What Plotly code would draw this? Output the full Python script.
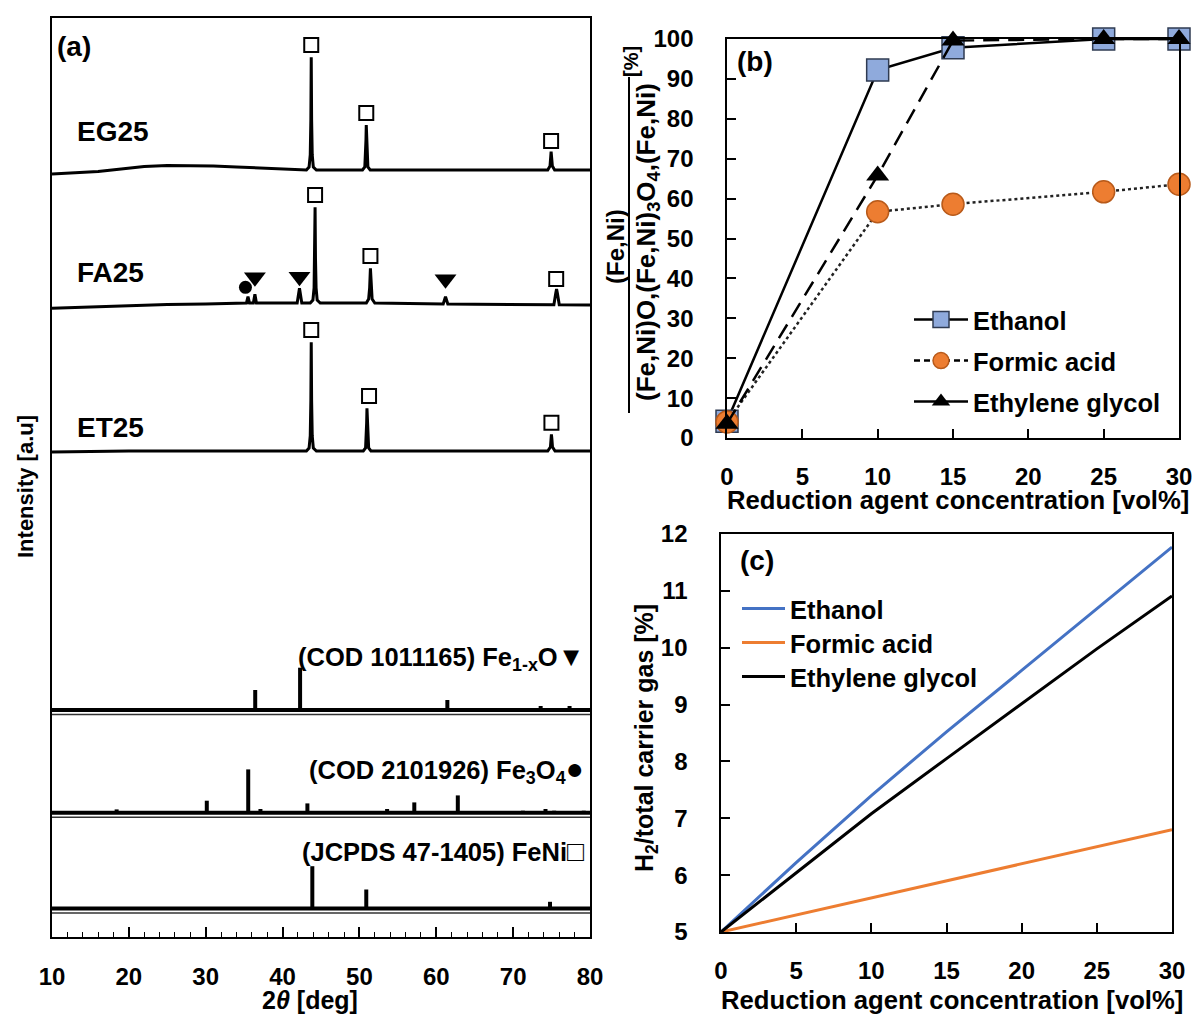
import plotly.graph_objects as go

W, H = 1193, 1021
FONT = "Liberation Sans, Arial, sans-serif"
NB = "\u00a0"


def px(x):
    return x / W


def py(y):
    return 1 - y / H


# ---------------- Panel (a) data ----------------
# sample XRD patterns: 2theta [deg], intensity above own baseline [a.u.]
eg25_2theta = [10, 13, 16, 19, 22, 25, 28, 31, 34, 37, 40, 43.1,
               43.45, 43.6, 43.68, 43.73, 43.78, 43.86, 44.0, 44.4,
               47, 50.4, 50.7, 50.8, 50.85, 50.89, 50.94, 51.0, 51.1, 51.4,
               55, 60, 65, 70, 74.5, 74.8, 74.9, 74.94, 75.0, 75.1, 75.4, 80]
eg25_int = [-4, -3, -1.5, 1, 3.5, 4.5, 4.5, 4, 3, 2, 1, 0,
            3, 15, 50, 112.7, 50, 15, 3, 0,
            0, 0, 3, 15, 30, 45, 30, 15, 3, 0,
            0, 0, -0.5, 0, 0, 4, 13, 18.3, 13, 4, 0, 0]

fa25_2theta = [10, 15, 20, 25, 30, 34, 35.3, 35.5, 35.7, 36.2, 36.4, 36.6, 38,
               41.9, 42.2, 42.5, 43.6, 43.95, 44.1, 44.18, 44.23, 44.28, 44.36, 44.5, 44.9,
               47, 50.9, 51.2, 51.33, 51.43, 51.53, 51.65, 52.0, 55,
               60.9, 61.2, 61.5, 65, 70, 75.3, 75.55, 75.65, 75.75, 76.0, 80]
fa25_int = [-5.3, -4, -2.7, -1.5, -1, -0.3, 0, 6.5, 0, 0, 8.7, 0, 0,
            0, 14.7, 0, 0, 3, 15, 45, 95.7, 45, 15, 3, 0,
            0, 0, 4, 15, 34.7, 15, 4, 0, -0.5,
            -1, 6.3, -1, -1.2, -1.5, -1.7, 10, 14, 10, -1.8, -2]

et25_2theta = [10, 20, 30, 40, 43.1, 43.45, 43.6, 43.68, 43.73, 43.78, 43.86, 44.0, 44.4,
               47, 50.5, 50.8, 50.9, 50.94, 50.98, 51.03, 51.1, 51.2, 51.5,
               60, 70, 74.5, 74.85, 74.94, 74.98, 75.04, 75.12, 75.45, 80]
et25_int = [-1, 0, 0, 0, 0, 3, 15, 50, 108.7, 50, 15, 3, 0,
            0, 0, 3, 15, 28, 42.7, 28, 15, 3, 0,
            0, 0, 0, 4, 12, 16.7, 12, 4, 0, 0]

sample_names = ["EG25", "FA25", "ET25"]
sample_offsets = [767, 634, 486]

# phase markers above peaks (2theta, height above baseline)
eg25_sq_2theta = [43.73, 50.89, 74.94]
eg25_sq_h = [125, 57, 29]
fa25_sq_2theta = [44.23, 51.43, 75.6]
fa25_sq_h = [108, 47, 24]
fa25_tri_2theta = [36.4, 42.2, 61.2]
fa25_tri_h = [25.7, 26.3, 23.7]
fa25_cir_2theta = [35.17]
fa25_cir_h = [15.7]
et25_sq_2theta = [43.73, 51.25, 74.98]
et25_sq_h = [121, 55, 28.3]

# reference stick patterns
feo_2theta = [36.44, 42.28, 61.44, 73.58, 77.34]
feo_int = [20, 42.3, 10, 4, 4]
fe3o4_2theta = [18.41, 30.14, 35.53, 37.12, 43.23, 53.6, 57.14, 62.8, 66.06, 71.27, 74.21, 75.34, 79.19]
fe3o4_int = [3.3, 12, 43.3, 3.7, 9.3, 3.7, 10.3, 17.3, 1.5, 2, 3.7, 2, 2]
feni_2theta = [43.87, 50.89, 74.8]
feni_int = [42.3, 19, 6.7]
ref_offsets = [227, 124.3, 28.5]
ref_labels = ['(COD 1011165) Fe<sub>1-x</sub>O<span style="font-size:27px">▼</span>',
              '(COD 2101926) Fe<sub>3</sub>O<sub>4</sub><span style="font-size:30px">●</span>',
              '(JCPDS 47-1405) FeNi<span style="font-size:28px">□</span>']

# ---------------- Panel (b) data ----------------
conc_b = [0, 10, 15, 25, 30]
ethanol_b = [4.2, 92.2, 97.8, 100, 100]
formic_b = [4.0, 56.7, 58.6, 61.7, 63.6]
eglycol_b = [3.6, 65.8, 99.6, 100, 100]

# ---------------- Panel (c) data ----------------
conc_c = [0, 5, 10, 15, 20, 25, 30]
ethanol_c = [5.0, 6.22, 7.4, 8.52, 9.6, 10.68, 11.77]
formic_c = [5.0, 5.3, 5.6, 5.9, 6.2, 6.5, 6.8]
eglycol_c = [5.0, 6.04, 7.08, 8.05, 9.02, 9.98, 10.91]

fig = go.Figure()

# ---- panel (a) traces ----
for xs, ys, off, nm in zip([eg25_2theta, fa25_2theta, et25_2theta],
                           [eg25_int, fa25_int, et25_int],
                           sample_offsets, sample_names):
    fig.add_trace(go.Scatter(x=xs, y=[off + v for v in ys], mode="lines", name=nm,
                             line=dict(color="black", width=3), xaxis="x", yaxis="y",
                             showlegend=False, hoverinfo="skip"))

for pos, hts, off in zip([feo_2theta, fe3o4_2theta, feni_2theta],
                         [feo_int, fe3o4_int, feni_int], ref_offsets):
    xs, ys = [], []
    for p, h in zip(pos, hts):
        xs += [p, p, None]
        ys += [off, off + h, None]
    fig.add_trace(go.Scatter(x=xs, y=ys, mode="lines", line=dict(color="black", width=4),
                             xaxis="x", yaxis="y", showlegend=False, hoverinfo="skip"))

sq_x = eg25_sq_2theta + fa25_sq_2theta + et25_sq_2theta
sq_y = ([sample_offsets[0] + h for h in eg25_sq_h] + [sample_offsets[1] + h for h in fa25_sq_h]
        + [sample_offsets[2] + h for h in et25_sq_h])
fig.add_trace(go.Scatter(x=sq_x, y=sq_y, mode="markers", xaxis="x", yaxis="y", showlegend=False,
                         marker=dict(symbol="square-open", size=14, color="black", line=dict(width=2))))
fig.add_trace(go.Scatter(x=fa25_tri_2theta, y=[sample_offsets[1] + h for h in fa25_tri_h], mode="markers",
                         xaxis="x", yaxis="y", showlegend=False,
                         marker=dict(symbol="triangle-down", size=19, color="black")))
fig.add_trace(go.Scatter(x=fa25_cir_2theta, y=[sample_offsets[1] + h for h in fa25_cir_h], mode="markers",
                         xaxis="x", yaxis="y", showlegend=False,
                         marker=dict(symbol="circle", size=13, color="black")))

# ---- panel (b) traces ----
fig.add_trace(go.Scatter(x=conc_b, y=ethanol_b, mode="lines+markers", name="Ethanol",
                         xaxis="x2", yaxis="y2", cliponaxis=False, legend="legend",
                         line=dict(color="black", width=2.5),
                         marker=dict(symbol="square", size=22, color="#8FAADC",
                                     line=dict(color="#2F3B52", width=1.5))))
fig.add_trace(go.Scatter(x=conc_b, y=formic_b, mode="lines+markers", name="Formic acid",
                         xaxis="x2", yaxis="y2", cliponaxis=False, showlegend=False,
                         line=dict(color="#222222", width=2.5, dash="dot"),
                         marker=dict(symbol="circle", size=22, color="#ED7D31",
                                     line=dict(color="#B85A1A", width=1.5))))
fig.add_trace(go.Scatter(x=conc_b, y=eglycol_b, mode="lines+markers", name="Ethylene glycol",
                         xaxis="x2", yaxis="y2", cliponaxis=False, showlegend=False,
                         line=dict(color="black", width=2.5, dash="16px,9px"),
                         marker=dict(symbol="triangle-up", size=20, color="black")))
# legend keys as drawn in the original legend
fig.add_trace(go.Scatter(x=[None], y=[None], mode="lines+markers", name="Formic acid",
                         xaxis="x2", yaxis="y2", legend="legend2",
                         line=dict(color="black", width=2.5, dash="6px,4px"),
                         marker=dict(symbol="circle", size=22, color="#ED7D31",
                                     line=dict(color="#B85A1A", width=1.5))))
fig.add_trace(go.Scatter(x=[None], y=[None], mode="lines+markers", name="Ethylene glycol",
                         xaxis="x2", yaxis="y2", legend="legend3",
                         line=dict(color="black", width=2.5),
                         marker=dict(symbol="triangle-up", size=20, color="black")))

# ---- panel (c) traces ----
for ys, nm, col, lg in zip([ethanol_c, formic_c, eglycol_c],
                           ["Ethanol", "Formic acid", "Ethylene glycol"],
                           ["#4472C4", "#ED7D31", "black"],
                           ["legend4", "legend5", "legend6"]):
    fig.add_trace(go.Scatter(x=conc_c, y=ys, mode="lines", name=nm, xaxis="x3", yaxis="y3",
                             legend=lg, line=dict(color=col, width=3)))

tickfont = dict(family=FONT, size=24, color="black", weight="bold")
common = dict(showline=True, mirror=True, linecolor="black", linewidth=2, showgrid=False,
              zeroline=False, ticks="inside", tickcolor="black", tickfont=tickfont,
              automargin=False, ticklabeloverflow="allow")

legend_common = dict(xanchor="left", yanchor="middle", bgcolor="rgba(0,0,0,0)", borderwidth=0,
                     font=dict(family=FONT, size=25.5, color="black", weight="bold"))

fig.update_layout(
    template="none",
    width=W, height=H, autosize=False,
    margin=dict(l=0, r=0, t=0, b=0, pad=0),
    paper_bgcolor="white", plot_bgcolor="white",
    font=dict(family=FONT, color="black"),
    xaxis=dict(domain=[px(52), px(590)], range=[10, 80], dtick=10, ticklen=10, tickwidth=1.5,
               minor=dict(dtick=2, ticks="inside", ticklen=5, tickwidth=1.2, tickcolor="black"),
               ticklabelstandoff=17, anchor="y", **common),
    yaxis=dict(domain=[py(937), py(18)], range=[0, 919], showticklabels=False, ticks="",
               anchor="x", showline=True, mirror=True, linecolor="black", linewidth=2,
               showgrid=False, zeroline=False, automargin=False),
    xaxis2=dict(domain=[px(727), px(1179)], range=[0, 30], dtick=5, ticklen=9, tickwidth=2,
                ticklabelstandoff=16, anchor="y2", **common),
    yaxis2=dict(domain=[py(438), py(39)], range=[0, 100], dtick=10, ticklen=9, tickwidth=2,
                ticksuffix=NB * 4, anchor="x2", **common),
    xaxis3=dict(domain=[px(721), px(1172)], range=[0, 30], dtick=5, ticklen=9, tickwidth=2,
                ticklabelstandoff=16, anchor="y3", **common),
    yaxis3=dict(domain=[py(932), py(534)], range=[5, 12], dtick=1, ticklen=9, tickwidth=2,
                ticksuffix=NB * 4, anchor="x3", **common),
    legend=dict(x=px(909), y=py(320), itemwidth=54, **legend_common),
    legend2=dict(x=px(909), y=py(361), itemwidth=54, **legend_common),
    legend3=dict(x=px(909), y=py(402), itemwidth=54, **legend_common),
    legend4=dict(x=px(737), y=py(609), itemwidth=43, **legend_common),
    legend5=dict(x=px(737), y=py(643), itemwidth=43, **legend_common),
    legend6=dict(x=px(737), y=py(677), itemwidth=43, **legend_common),
)

# thin frame lines under the reference patterns and thick baselines
shapes = []
for off in ref_offsets:
    shapes.append(dict(type="line", xref="x", yref="y", x0=10, x1=80, y0=off, y1=off,
                       line=dict(color="black", width=4)))
    shapes.append(dict(type="line", xref="x", yref="y", x0=10, x1=80, y0=off - 4.5, y1=off - 4.5,
                       line=dict(color="#333333", width=1.5)))
# fraction bar of panel (b) y title
shapes.append(dict(type="line", xref="paper", yref="paper", x0=px(629), x1=px(629),
                   y0=py(413), y1=py(77), line=dict(color="black", width=2)))
fig.update_layout(shapes=shapes)


def ann(x, y, text, size, angle=0, xanchor="center", yanchor="middle", bold=True):
    fig.add_annotation(x=px(x), y=py(y), xref="paper", yref="paper", text=text, showarrow=False,
                       textangle=angle, xanchor=xanchor, yanchor=yanchor,
                       font=dict(family=FONT, size=size, color="black",
                                 weight="bold" if bold else "normal"))


# panel (a) texts
ann(55, 46, "(a)", 28, xanchor="left")
ann(75, 132, sample_names[0], 28, xanchor="left")
ann(75, 272, sample_names[1], 28, xanchor="left")
ann(75, 427, sample_names[2], 28, xanchor="left")
ann(586, 658, ref_labels[0], 25.5, xanchor="right")
ann(586, 770, ref_labels[1], 25.5, xanchor="right")
ann(586, 851, ref_labels[2], 25.5, xanchor="right")
ann(25, 487, "Intensity [a.u]", 22, angle=-90)
ann(310, 1000, "2<i>θ</i> [deg]", 25)

# panel (b) texts
ann(735, 62, "(b)", 28, xanchor="left")
ann(958, 500, "Reduction agent concentration [vol%]", 25.7)
ann(616, 247, "(Fe,Ni)", 24, angle=-90)
ann(647, 242, "(Fe,Ni)O,(Fe,Ni)<sub>3</sub>O<sub>4</sub>,(Fe,Ni)", 26, angle=-90)
ann(631, 62, "[%]", 20, angle=-90)

# panel (c) texts
ann(738, 560, "(c)", 28, xanchor="left")
ann(952, 1000, "Reduction agent concentration [vol%]", 25.7)
ann(646, 738, "H<sub>2</sub>/total carrier gas [%]", 25, angle=-90)

# remove the page's default body margin so the figure sits at the window's corner
fig.write_html("out.html", config={"displayModeBar": False},
               post_script="document.body.style.margin='0';document.body.style.overflow='hidden';")
